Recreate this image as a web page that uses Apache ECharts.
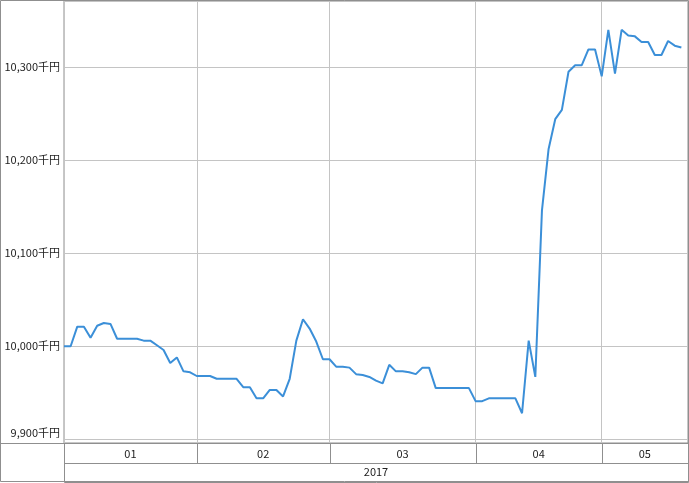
<!DOCTYPE html>
<html>
<head>
<meta charset="utf-8">
<script src="https://cdn.jsdelivr.net/npm/echarts@6/dist/echarts.min.js"></script>
<style>
html,body{margin:0;padding:0;background:#fff;}
#c{width:689px;height:483px;}
</style>
</head>
<body>
<div id="c"></div>
<script>
// ---- data ----
const yearLabel = '2017';
const monthLabels = ['01', '02', '03', '04', '05'];
const monthCounts = [20, 20, 22, 19, 14]; // category slots per month (last slot of May is empty)
const values = [
  10000, 10000, 10021, 10021, 10009, 10022, 10025, 10024, 10008, 10008,
  10008, 10008, 10006, 10006, 10001, 9996, 9982, 9988, 9973, 9972,
  9968, 9968, 9968, 9965, 9965, 9965, 9965, 9956, 9956, 9944,
  9944, 9953, 9953, 9946, 9965, 10006, 10029, 10019, 10005, 9986,
  9986, 9978, 9978, 9977, 9970, 9969, 9967, 9963, 9960, 9980,
  9973, 9973, 9972, 9970, 9977, 9977, 9955, 9955, 9955, 9955,
  9955, 9955, 9941, 9941, 9944, 9944, 9944, 9944, 9944, 9928,
  10006, 9967, 10146, 10212, 10244, 10254, 10295, 10302, 10302, 10319,
  10319, 10290, 10340, 10293, 10340, 10334, 10333, 10327, 10327, 10313,
  10313, 10328, 10323, 10321
];
const yTicks = [9900, 10000, 10100, 10200, 10300];

// ---- derived ----
const categories = [];
const monthStarts = [];
monthLabels.forEach((m, k) => {
  monthStarts.push(categories.length);
  for (let d = 0; d < monthCounts[k]; d++) categories.push(yearLabel + '/' + m + '#' + (d + 1));
});
const total = categories.length;
const monthCells = monthLabels.map((m, k) => {
  const s = monthStarts[k];
  const e = Math.min(s + monthCounts[k], total - 1);
  return [s, e];
});
const lineData = categories.map((c, i) => (i < values.length ? values[i] : null));

const FONT = '"Noto Sans CJK JP", "Noto Sans", sans-serif';
const BORDER = '#8f8f8f';
const GRIDC = '#c4c4c4';
const TXT = '#222';

function fmt(v) {
  return v.toLocaleString('en-US') + '千円';
}

const chart = echarts.init(document.getElementById('c'), null, {renderer: 'canvas'});
chart.setOption({
  animation: false,
  backgroundColor: '#fff',
  grid: [
    {left: 64, top: 1, width: 624, height: 442, show: true, borderColor: BORDER, borderWidth: 1, backgroundColor: 'transparent'},
    {left: 64, top: 443, width: 624, height: 39, show: false}
  ],
  xAxis: [
    {
      type: 'category', gridIndex: 0, data: categories, boundaryGap: false,
      axisLine: {show: false}, axisTick: {show: false}, axisLabel: {show: false},
      splitLine: {show: true, interval: (idx) => monthStarts.indexOf(idx) >= 0, lineStyle: {color: GRIDC, width: 1}}
    },
    {
      type: 'category', gridIndex: 1, data: categories, boundaryGap: false,
      axisLine: {show: false}, axisTick: {show: false}, axisLabel: {show: false}, splitLine: {show: false}
    }
  ],
  yAxis: [
    {
      type: 'value', gridIndex: 0, min: 9896, max: 10371,
      axisLine: {show: false}, axisTick: {show: false},
      splitLine: {show: true, lineStyle: {color: GRIDC, width: 1}},
      axisLabel: {
        margin: 4, color: TXT, fontSize: 11, fontFamily: FONT,
        showMinLabel: false, showMaxLabel: false,
        formatter: (v) => {
          if (yTicks.indexOf(v) < 0) return '';
          if (v === yTicks[0]) return '{lo|' + fmt(v) + '}';
          return fmt(v);
        },
        rich: {lo: {color: TXT, fontSize: 11, fontFamily: FONT, padding: [0, 0, 12, 0]}}
      }
    },
    {type: 'value', gridIndex: 1, min: 0, max: 2, show: false}
  ],
  series: [
    {
      type: 'line', xAxisIndex: 0, yAxisIndex: 0, data: lineData,
      showSymbol: false, symbol: 'none', smooth: false, connectNulls: false,
      lineStyle: {color: '#3b8fd8', width: 2}
    },
    {
      type: 'custom', xAxisIndex: 1, yAxisIndex: 1, data: monthCells, silent: true,
      renderItem: (params, api) => {
        const p1 = api.coord([api.value(0), 2]);
        const p2 = api.coord([api.value(1), 1]);
        return {
          type: 'group',
          children: [
            {type: 'rect', shape: {x: Math.round(p1[0]) + 0.5, y: Math.round(p1[1]) + 0.5, width: Math.round(p2[0] - p1[0]), height: Math.round(p2[1] - p1[1])},
             style: {fill: 'none', stroke: BORDER, lineWidth: 1}},
            {type: 'text', x: (p1[0] + p2[0]) / 2, y: (p1[1] + p2[1]) / 2 + 1,
             style: {text: monthLabels[params.dataIndex], align: 'center', verticalAlign: 'middle', fill: TXT, fontSize: 11, fontFamily: FONT}}
          ]
        };
      }
    },
    {
      type: 'custom', xAxisIndex: 1, yAxisIndex: 1, data: [[0, total - 1]], silent: true,
      renderItem: (params, api) => {
        const p1 = api.coord([api.value(0), 1]);
        const p2 = api.coord([api.value(1), 0]);
        return {
          type: 'group',
          children: [
            {type: 'rect', shape: {x: Math.round(p1[0]) + 0.5, y: Math.round(p1[1]) + 0.5, width: Math.round(p2[0] - p1[0]), height: Math.round(p2[1] - p1[1]) - 1},
             style: {fill: 'none', stroke: BORDER, lineWidth: 1}},
            {type: 'text', x: (p1[0] + p2[0]) / 2, y: (p1[1] + p2[1]) / 2,
             style: {text: yearLabel, align: 'center', verticalAlign: 'middle', fill: TXT, fontSize: 11, fontFamily: FONT}}
          ]
        };
      }
    }
  ],
  graphic: [
    {type: 'rect', silent: true, z: 100, shape: {x: 0.5, y: 0.5, width: 688, height: 481}, style: {fill: 'none', stroke: BORDER, lineWidth: 1}},
    {type: 'line', silent: true, z: 100, shape: {x1: 0, y1: 443.5, x2: 64, y2: 443.5}, style: {stroke: BORDER, lineWidth: 1}},
    {type: 'line', silent: true, z: 100, shape: {x1: 64.5, y1: 443, x2: 64.5, y2: 482}, style: {stroke: BORDER, lineWidth: 1}}
  ]
});
</script>
</body>
</html>
